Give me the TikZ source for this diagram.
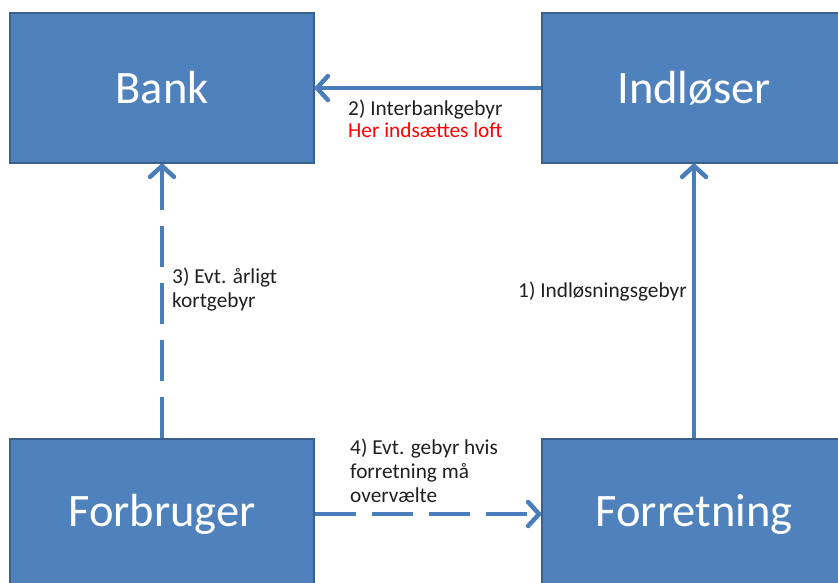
\documentclass[tikz,border=0pt]{standalone}
\usepackage{fontspec}
\setmainfont{Carlito}
\usetikzlibrary{arrows.meta}
\definecolor{boxfill}{HTML}{4F81BD}
\definecolor{boxline}{HTML}{3A5F8B}
\definecolor{conn}{HTML}{4A7EBB}
\definecolor{loftred}{HTML}{FF0000}
\tikzset{
  entity/.style={draw=boxline, line width=1.3pt, fill=boxfill, minimum width=304pt, minimum height=150pt, inner sep=0pt, text=white, font=\fontsize{46.5}{56}\selectfont},
  conline/.style={draw=conn, line width=4.5pt, -{Straight Barb[length=11pt,width=24pt,round]}},
  condash/.style={conline, dash pattern=on 41pt off 16pt},
  lbl/.style={inner sep=0pt, align=left, anchor=base west, font=\fontsize{21.3}{24}\selectfont, text=black!88}
}
\begin{document}
\begin{tikzpicture}[x=1pt,y=-1pt]
\useasboundingbox (0,0) rectangle (838,582);
\clip (0,0) rectangle (838,582);
\node[entity] (bank) at (162,88) {Bank};
\node[entity] (indl) at (694,88) {Indløser};
\node[entity] (forb) at (162,514) {Forbruger};
\node[entity] (forr) at (694,514) {Forretning};
\draw[conline] (indl.west) -- (bank.east);
\draw[conline] (forr.north) -- (indl.south);
\draw[condash] (forb.north) -- (bank.south);
\draw[condash] (forb.east) -- (forr.west);
\node[lbl] (l2) at (348,137.5) {2) Interbankgebyr\\[-1.5pt]\textcolor{loftred}{Her indsættes loft}};
\node[lbl] (l3) at (172,307) {3) Evt. årligt\\kortgebyr};
\node[lbl] (l1) at (518,297) {1) Indløsningsgebyr};
\node[lbl] (l4) at (350,502) {4) Evt. gebyr hvis\\forretning må\\overvælte};
\end{tikzpicture}
\end{document}
